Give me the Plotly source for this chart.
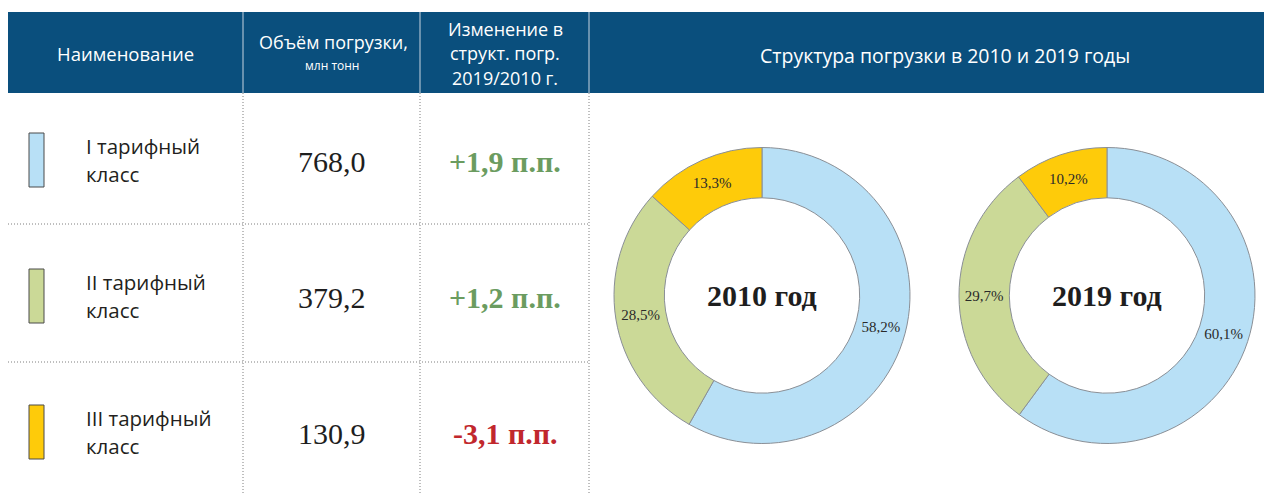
import plotly.graph_objects as go

W, H = 1264, 493

# data
classes = ["I тарифный", "II тарифный", "III тарифный"]
volumes = [768.0, 379.2, 130.9]
changes = [1.9, 1.2, -3.1]
shares_2010 = [58.2, 28.5, 13.3]
shares_2019 = [60.1, 29.7, 10.2]
years = ["2010", "2019"]

colors = ["#b8e0f6", "#cbd997", "#fecb0a"]
header_blue = "#0a4f7d"
sans = "Open Sans"
serif = "Liberation Serif"


def px(x):
    return x / W


def py(y):
    return 1 - y / H


def comma(v):
    return f"{v:.1f}".replace(".", ",")


def note(fig, txt, x, y, font, xanchor="center"):
    fig.add_annotation(x=px(x), y=py(y), xref="paper", yref="paper",
                       text=txt, showarrow=False, font=font,
                       xanchor=xanchor, yanchor="middle")


fig = go.Figure()

# donuts
pie_domains = [(614, 910), (959, 1255)]
for year, shares, (x0, x1) in zip(years, [shares_2010, shares_2019], pie_domains):
    fig.add_trace(
        go.Pie(
            values=shares,
            labels=classes,
            text=[comma(s) + "%" for s in shares],
            textinfo="text",
            textposition="inside",
            insidetextorientation="horizontal",
            textfont=dict(family=serif, size=15, color="#2a2a2a"),
            marker=dict(colors=colors, line=dict(color="#8a8f96", width=1)),
            hole=0.66,
            sort=False,
            direction="clockwise",
            rotation=0,
            domain=dict(x=[px(x0), px(x1)], y=[py(445), py(146)]),
            showlegend=False,
            hoverinfo="label+text",
        )
    )
    note(fig, f"<b>{year} год</b>", (x0 + x1) / 2, 295,
         dict(family=serif, size=30, color="#1e1e1e"))

shapes = []

# header band
shapes.append(dict(type="rect", xref="paper", yref="paper",
                   x0=px(8), x1=px(1264), y0=py(93), y1=py(12),
                   fillcolor=header_blue, line=dict(width=0), layer="below"))

# column separators
for cx in [243, 420, 589]:
    shapes.append(dict(type="line", xref="paper", yref="paper",
                       x0=px(cx), x1=px(cx), y0=py(93), y1=py(12),
                       line=dict(color="#a9bfd1", width=1.2)))
    shapes.append(dict(type="line", xref="paper", yref="paper",
                       x0=px(cx), x1=px(cx), y0=py(493), y1=py(93),
                       line=dict(color="#7f7f7f", width=1, dash="1px,2px")))

# row separators
for ry in [224, 362]:
    shapes.append(dict(type="line", xref="paper", yref="paper",
                       x0=px(8), x1=px(589), y0=py(ry), y1=py(ry),
                       line=dict(color="#7f7f7f", width=1, dash="1px,2px")))

# header text
header = [
    ("Наименование", 125, 54, 18.5),
    ("Объём погрузки,", 333, 42, 18),
    ("млн тонн", 332, 65, 12),
    ("Изменение в", 505, 29, 18),
    ("структ. погр.", 505, 53, 18),
    ("2019/2010 г.", 505, 78, 18),
    ("Структура погрузки в 2010 и 2019 годы", 945, 55, 19.5),
]
for txt, x, y, s in header:
    note(fig, txt, x, y, dict(family=sans, size=s, color="white"))

# table rows
row_centers = [160, 296, 432]
for name, vol, ch, col, yc in zip(classes, volumes, changes, colors, row_centers):
    shapes.append(dict(type="rect", xref="paper", yref="paper",
                       x0=px(29), x1=px(44), y0=py(yc + 27), y1=py(yc - 27),
                       fillcolor=col, line=dict(color="#4a4a4a", width=1)))
    label_font = dict(family=sans, size=20.5, color="#231f20")
    note(fig, name, 84, yc - 14, label_font, xanchor="left")
    note(fig, "класс", 84, yc + 14, label_font, xanchor="left")
    note(fig, comma(vol), 332, yc + 1, dict(family=serif, size=30, color="#1e1e1e"))
    sign = "+" if ch > 0 else "-"
    note(fig, f"<b>{sign}{comma(abs(ch))} п.п.</b>", 505, yc + 1,
         dict(family=serif, size=30, color="#6b9c60" if ch > 0 else "#c1272d"))

fig.update_layout(
    width=W, height=H,
    margin=dict(l=0, r=0, t=0, b=0),
    paper_bgcolor="white",
    plot_bgcolor="white",
    shapes=shapes,
    uniformtext=dict(minsize=15, mode="show"),
)

fig.write_html("out.html", config={"displayModeBar": False},
               post_script=["document.body.style.margin = '0';"])
